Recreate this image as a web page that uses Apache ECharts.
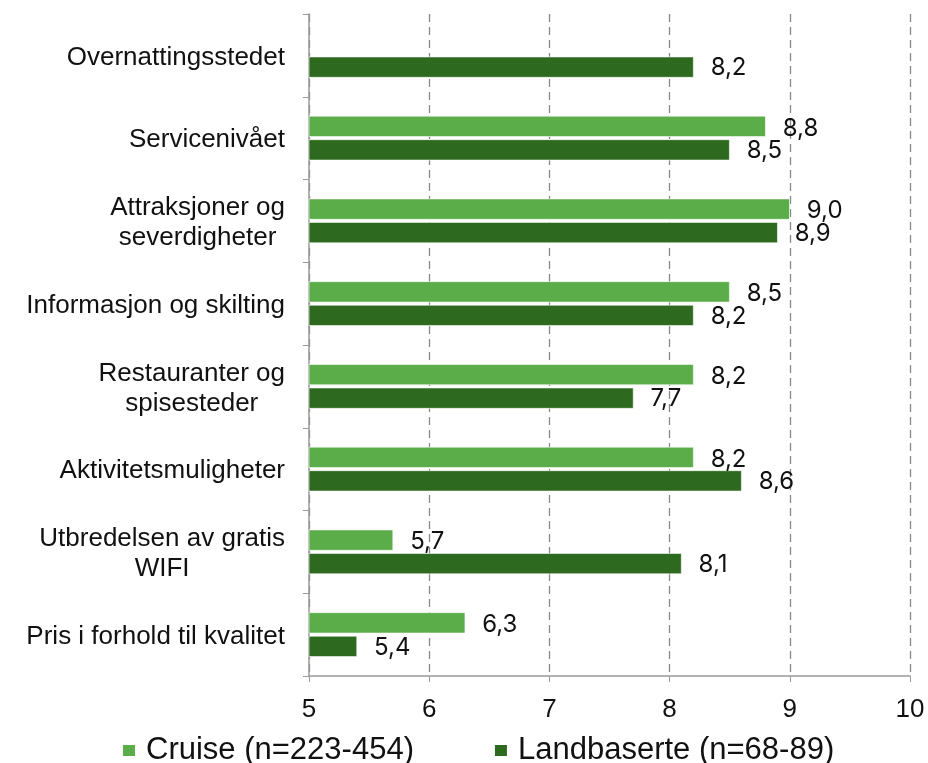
<!DOCTYPE html>
<html>
<head>
<meta charset="utf-8">
<script src="https://cdn.jsdelivr.net/npm/echarts@6/dist/echarts.min.js"></script>
<style>
  html, body { margin: 0; padding: 0; background: #fff; }
  #main { width: 928px; height: 763px; }
</style>
</head>
<body>
<div id="main"></div>
<script>
var categories = [
    'Overnattingsstedet',
    'Servicenivået',
    'Attraksjoner og\nseverdigheter',
    'Informasjon og skilting',
    'Restauranter og\nspisesteder',
    'Aktivitetsmuligheter',
    'Utbredelsen av gratis\nWIFI',
    'Pris i forhold til kvalitet'
];
var cruise = [null, 8.8, 9.0, 8.5, 8.2, 8.2, 5.7, 6.3];
var landbaserte = [8.2, 8.5, 8.9, 8.2, 7.7, 8.6, 8.1, 5.4];
var seriesNames = ['Cruise (n=223-454)', 'Landbaserte (n=68-89)'];

var myChart = echarts.init(document.getElementById('main'));

// verdier med komma som desimaltegn
function fmt(p) {
    return p.value == null ? '' : p.value.toFixed(1).replace('.', ',');
}

var labelStyle = {
    show: true,
    position: 'right',
    distance: 17,
    formatter: fmt,
    color: '#111',
    fontFamily: 'Inter',
    fontSize: 24
};

var option = {
    animation: false,
    grid: {
        left: 309,
        right: 18,
        top: 14,
        bottom: 87,
        containLabel: false
    },
    legend: {
        top: 730,
        left: 116,
        itemWidth: 14,
        itemHeight: 13,
        itemGap: 79,
        icon: 'rect',
        textStyle: {
            fontFamily: 'Liberation Sans',
            fontSize: 31,
            color: '#111',
            padding: [0, 0, 0, 5]
        },
        data: seriesNames
    },
    xAxis: {
        type: 'value',
        min: 5,
        max: 10,
        interval: 1,
        axisLine: { show: true, lineStyle: { color: '#999', width: 1.5 } },
        axisTick: { show: true, length: 6, lineStyle: { color: '#999' } },
        axisLabel: {
            margin: 21,
            fontFamily: 'Liberation Sans',
            fontSize: 26,
            color: '#111'
        },
        splitLine: {
            show: true,
            lineStyle: { color: '#888', type: [8, 5], width: 1.3 }
        }
    },
    yAxis: {
        type: 'category',
        inverse: true,
        data: categories,
        axisLine: { show: true, lineStyle: { color: '#999', width: 1.5 } },
        axisTick: { show: true, length: 6, lineStyle: { color: '#999' } },
        axisLabel: {
            margin: 24,
            padding: [4, 0, 0, 0],
            formatter: function (v) {
                return v.split('\n').map(function (l) { return '{c|' + l + '}'; }).join('\n');
            },
            rich: {
                c: {
                    align: 'center',
                    fontFamily: 'Liberation Sans',
                    fontSize: 26,
                    lineHeight: 30,
                    color: '#111'
                }
            }
        }
    },
    series: [
        {
            name: seriesNames[0],
            type: 'bar',
            data: cruise,
            barWidth: 21,
            barGap: '12%',
            itemStyle: { color: '#5aad48', borderColor: '#fff', borderWidth: 0.6 },
            label: Object.assign({}, labelStyle, { offset: [0, 2] })
        },
        {
            name: seriesNames[1],
            type: 'bar',
            data: landbaserte,
            barWidth: 21,
            barGap: '12%',
            itemStyle: { color: '#2d6a1f', borderColor: '#fff', borderWidth: 0.6 },
            label: Object.assign({}, labelStyle, { offset: [0, 1] })
        }
    ]
};

myChart.setOption(option);
</script>
</body>
</html>
